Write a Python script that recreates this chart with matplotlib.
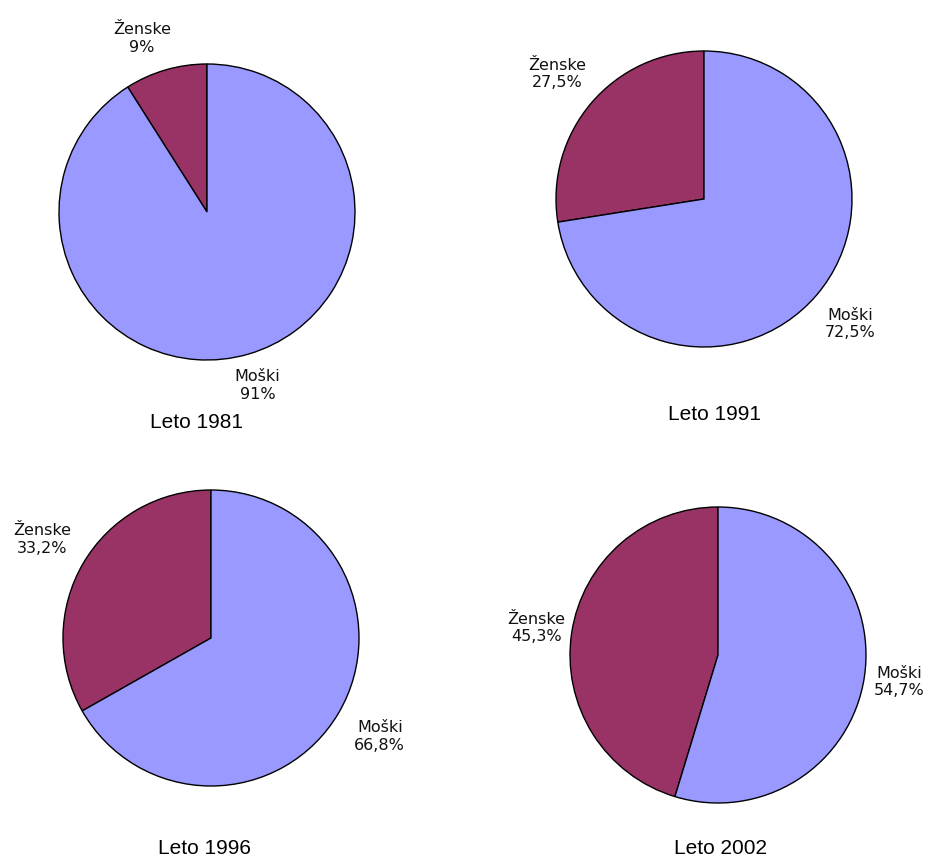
import matplotlib.pyplot as plt

# share of men / women per year (Ženske first, counterclockwise from top)
years = ["1981", "1991", "1996", "2002"]
zenske = [9.0, 27.5, 33.2, 45.3]
moski = [91.0, 72.5, 66.8, 54.7]
zenske_txt = ["9%", "27,5%", "33,2%", "45,3%"]
moski_txt = ["91%", "72,5%", "66,8%", "54,7%"]

col_z = "#993366"
col_m = "#9999FF"

W, H = 927, 858
fig = plt.figure(figsize=(W / 100, H / 100), dpi=100)

# pie centres (px), radius, label distance, title position (px)
centres = [(207, 212), (704, 199), (211, 638), (718, 655)]
R = 148
label_dist = [1.22, 1.3, 1.32, 1.24]
title_pos = [(196, 422), (715, 415), (204, 848), (720, 848)]

for i, yr in enumerate(years):
    cx, cy = centres[i]
    ax = fig.add_axes([(cx - R) / W, (H - cy - R) / H, 2 * R / W, 2 * R / H])
    wedges, texts = ax.pie(
        [zenske[i], moski[i]],
        colors=[col_z, col_m],
        startangle=90,
        counterclock=True,
        labels=[f"Ženske\n{zenske_txt[i]}", f"Moški\n{moski_txt[i]}"],
        labeldistance=label_dist[i],
        wedgeprops=dict(edgecolor="black", linewidth=1.0),
        textprops=dict(fontsize=11.5, family="DejaVu Sans", color="#111111"),
    )
    for t in texts:
        t.set_ha("center")
        t.set_va("center")
        t.set_multialignment("center")
    if i == 0:
        # Excel put this one a little further left
        x, y = texts[0].get_position()
        texts[0].set_position((x - 0.1, y))
    ax.set_xlim(-1, 1)
    ax.set_ylim(-1, 1)
    ax.set_aspect("equal")
    ax.axis("off")

    tx, ty = title_pos[i]
    fig.text(tx / W, 1 - ty / H, f"Leto {yr}", ha="center", va="center",
             fontsize=15, family="Liberation Sans", color="black")

fig.savefig("out.png", dpi=100, facecolor="white")
